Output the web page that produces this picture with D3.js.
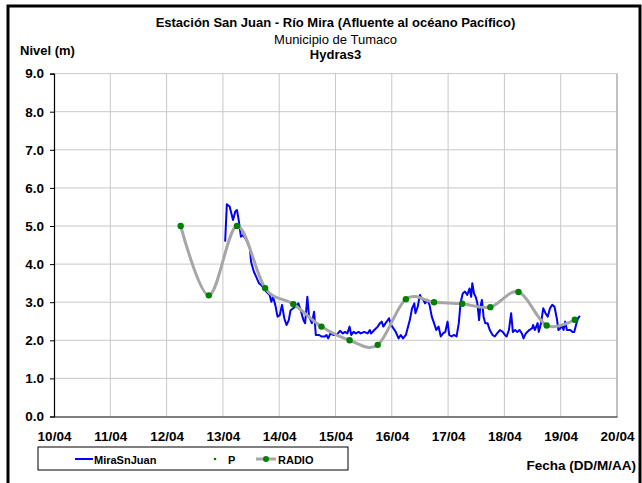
<!DOCTYPE html>
<html>
<head>
<meta charset="utf-8">
<script src="https://cdn.jsdelivr.net/npm/d3@7/dist/d3.min.js"></script>
<style>
  html, body { margin: 0; padding: 0; background: #fff; }
  svg { display: block; }
  text { font-family: "Liberation Sans", Arial, sans-serif; }
</style>
</head>
<body>
<script>
// ---------- DATA ----------
const titleLines = ["Estación San Juan  - Río Mira (Afluente al océano Pacífico)", "Municipio de Tumaco", "Hydras3"];
const xTickDays = [10, 11, 12, 13, 14, 15, 16, 17, 18, 19, 20];
const xTickLabels = ["10/04", "11/04", "12/04", "13/04", "14/04", "15/04", "16/04", "17/04", "18/04", "19/04", "20/04"];
const yTicks = [0, 1, 2, 3, 4, 5, 6, 7, 8, 9];

// MiraSnJuan (day of April, level m)
const miraDays = [13.04, 13.07, 13.12, 13.18, 13.22, 13.25, 13.28, 13.32, 13.36, 13.42, 13.48, 13.50, 13.55, 13.59, 13.64, 13.68, 13.73, 13.77, 13.83, 13.86, 13.89, 13.93, 13.97, 14.01, 14.05, 14.09, 14.13, 14.17, 14.20, 14.28, 14.34, 14.38, 14.43, 14.46, 14.50, 14.53, 14.58, 14.62, 14.65, 14.71, 14.75, 14.81, 14.84, 14.87, 14.91, 14.96, 15.02, 15.08, 15.13, 15.17, 15.21, 15.25, 15.28, 15.32, 15.36, 15.41, 15.45, 15.51, 15.57, 15.61, 15.63, 15.69, 15.75, 15.79, 15.82, 15.85, 15.89, 15.93, 15.95, 15.99, 16.03, 16.07, 16.12, 16.16, 16.20, 16.25, 16.28, 16.32, 16.36, 16.40, 16.42, 16.46, 16.50, 16.53, 16.56, 16.59, 16.63, 16.67, 16.71, 16.75, 16.79, 16.83, 16.87, 16.91, 16.95, 16.99, 17.02, 17.06, 17.10, 17.15, 17.19, 17.22, 17.26, 17.30, 17.34, 17.38, 17.41, 17.43, 17.46, 17.49, 17.52, 17.55, 17.57, 17.60, 17.63, 17.66, 17.70, 17.74, 17.79, 17.83, 17.87, 17.92, 17.97, 18.01, 18.04, 18.08, 18.12, 18.15, 18.19, 18.23, 18.27, 18.31, 18.34, 18.38, 18.44, 18.49, 18.51, 18.54, 18.59, 18.61, 18.65, 18.69, 18.73, 18.77, 18.81, 18.85, 18.89, 18.93, 18.96, 18.99, 19.02, 19.05, 19.08, 19.11, 19.17, 19.21, 19.24, 19.28, 19.31, 19.34];
const miraValues = [4.59, 5.57, 5.51, 5.16, 5.38, 5.42, 5.16, 4.72, 4.76, 4.63, 4.41, 4.06, 3.80, 3.67, 3.50, 3.45, 3.36, 3.28, 3.19, 3.01, 3.14, 2.93, 2.62, 2.66, 2.93, 2.58, 2.40, 2.53, 2.78, 2.88, 2.97, 2.80, 2.53, 2.45, 3.14, 2.62, 2.45, 2.75, 2.14, 2.14, 2.10, 2.10, 2.14, 2.05, 2.18, 2.14, 2.14, 2.25, 2.18, 2.22, 2.18, 2.36, 2.14, 2.22, 2.18, 2.22, 2.18, 2.22, 2.18, 2.27, 2.18, 2.27, 2.36, 2.45, 2.49, 2.36, 2.45, 2.53, 2.58, 2.40, 2.31, 2.22, 2.05, 2.14, 2.05, 2.14, 2.31, 2.53, 2.84, 2.97, 2.71, 2.88, 3.19, 3.10, 3.06, 2.97, 3.06, 2.93, 2.62, 2.45, 2.27, 2.36, 2.10, 2.18, 2.22, 2.49, 2.14, 2.10, 2.14, 2.10, 2.45, 2.97, 3.23, 3.28, 3.19, 3.36, 3.14, 3.50, 3.23, 3.14, 2.97, 2.53, 2.84, 3.06, 2.62, 2.45, 2.45, 2.27, 2.14, 2.10, 2.18, 2.27, 2.22, 2.14, 2.10, 2.27, 2.71, 2.22, 2.27, 2.22, 2.27, 2.18, 2.05, 2.18, 2.27, 2.31, 2.40, 2.27, 2.45, 2.22, 2.45, 2.84, 2.71, 2.62, 2.84, 2.93, 2.88, 2.58, 2.27, 2.31, 2.40, 2.27, 2.49, 2.27, 2.27, 2.22, 2.22, 2.45, 2.58, 2.64];

// P / RADIO readings (day of April, level m)
const radioDays = [12.25, 12.75, 13.25, 13.75, 14.25, 14.75, 15.25, 15.75, 16.25, 16.75, 17.25, 17.75, 18.25, 18.75, 19.25];
const radioValues = [5.00, 3.18, 5.00, 3.37, 2.95, 2.36, 2.00, 1.88, 3.08, 3.00, 2.96, 2.87, 3.27, 2.39, 2.54];

const legendLabels = ["MiraSnJuan", "P", "RADIO"];

// ---------- CHART ----------
const W = 642, H = 483;
const svg = d3.select("body").append("svg").attr("width", W).attr("height", H);

const plot = { left: 54, right: 617, top: 73.6, bottom: 416.5 };
const x = d3.scaleLinear().domain([10, 20]).range([plot.left, plot.right]);
const y = d3.scaleLinear().domain([0, 9]).range([plot.bottom, plot.top]);

// outer frame
svg.append("rect").attr("x", 8).attr("y", 6).attr("width", 632).attr("height", 500)
  .attr("fill", "#fff").attr("stroke", "#000").attr("stroke-width", 3);

// grid
const grid = svg.append("g");
grid.selectAll(".vg").data(xTickDays.slice(1)).join("line")
  .attr("x1", d => x(d)).attr("x2", d => x(d))
  .attr("y1", plot.top).attr("y2", plot.bottom)
  .attr("stroke", "#c8c8c8").attr("stroke-width", 1);
grid.selectAll(".hg").data(yTicks.slice(1)).join("line")
  .attr("x1", plot.left).attr("x2", plot.right)
  .attr("y1", d => y(d)).attr("y2", d => y(d))
  .attr("stroke", "#c8c8c8").attr("stroke-width", 1);
// right border of plot area
svg.append("line").attr("x1", plot.right).attr("x2", plot.right)
  .attr("y1", plot.top).attr("y2", plot.bottom).attr("stroke", "#a0a0a0");

// axes
const tfont = '"Liberation Sans Narrow", "Liberation Sans", Arial, sans-serif';
const yAxis = d3.axisLeft(y).tickValues(yTicks).tickFormat(d3.format(".1f")).tickSize(4).tickPadding(6);
const xAxis = d3.axisBottom(x).tickValues(xTickDays).tickFormat((d, i) => xTickLabels[i]).tickSize(0).tickPadding(15);

const gy = svg.append("g").attr("transform", `translate(${plot.left},0)`).call(yAxis);
const gx = svg.append("g").attr("transform", `translate(0,${plot.bottom})`).call(xAxis);
[gx, gy].forEach(g => {
  g.select(".domain").attr("stroke", "#000").attr("stroke-width", 1.2);
  g.selectAll(".tick line").attr("stroke", "#000");
  g.selectAll("text").attr("fill", "#000").attr("font-weight", "bold")
    .attr("font-size", 13.5).style("font-family", tfont);
});

// blue series
const mira = miraDays.map((d, i) => [d, miraValues[i]]);
svg.append("path").datum(mira)
  .attr("fill", "none").attr("stroke", "#0000ff").attr("stroke-width", 2)
  .attr("stroke-linejoin", "round")
  .attr("d", d3.line().x(d => x(d[0])).y(d => y(d[1])));

// RADIO smooth line
const radio = radioDays.map((d, i) => [d, radioValues[i]]);
svg.append("path").datum(radio)
  .attr("fill", "none").attr("stroke", "#a6a6a6").attr("stroke-width", 3)
  .attr("d", d3.line().curve(d3.curveCardinal.tension(0)).x(d => x(d[0])).y(d => y(d[1])));
// RADIO markers
svg.selectAll(".rdot").data(radio).join("circle")
  .attr("cx", d => x(d[0])).attr("cy", d => y(d[1])).attr("r", 3.2).attr("fill", "#008000");
// P points
svg.selectAll(".pdot").data(radio).join("circle")
  .attr("cx", d => x(d[0])).attr("cy", d => y(d[1])).attr("r", 1.5).attr("fill", "#008000");

// titles
const tx = (plot.left + plot.right) / 2;
svg.append("text").attr("x", tx).attr("y", 27).attr("text-anchor", "middle")
  .attr("font-weight", "bold").attr("font-size", 13).style("font-family", tfont).text(titleLines[0]);
svg.append("text").attr("x", tx).attr("y", 44).attr("text-anchor", "middle")
  .attr("font-size", 13).style("font-family", tfont).text(titleLines[1]);
svg.append("text").attr("x", tx).attr("y", 59).attr("text-anchor", "middle")
  .attr("font-weight", "bold").attr("font-size", 13).style("font-family", tfont).text(titleLines[2]);
svg.append("text").attr("x", 20).attr("y", 55)
  .attr("font-weight", "bold").attr("font-size", 13).style("font-family", tfont).text("Nivel (m)");
svg.append("text").attr("x", 636).attr("y", 470).attr("text-anchor", "end")
  .attr("font-weight", "bold").attr("font-size", 13.5).style("font-family", tfont).text("Fecha (DD/M/AA)");

// legend
const lg = svg.append("g");
lg.append("rect").attr("x", 38).attr("y", 447).attr("width", 310).attr("height", 23)
  .attr("fill", "#fff").attr("stroke", "#000").attr("stroke-width", 1);
const ly = 459;
lg.append("line").attr("x1", 75).attr("x2", 93).attr("y1", ly).attr("y2", ly)
  .attr("stroke", "#0000ff").attr("stroke-width", 2);
lg.append("circle").attr("cx", 215).attr("cy", ly).attr("r", 1.3).attr("fill", "#008000");
lg.append("line").attr("x1", 256).attr("x2", 276).attr("y1", ly).attr("y2", ly)
  .attr("stroke", "#a6a6a6").attr("stroke-width", 3);
lg.append("circle").attr("cx", 266).attr("cy", ly).attr("r", 3).attr("fill", "#008000");
const lx = [94, 228, 278];
lg.selectAll(".lt").data(legendLabels).join("text")
  .attr("x", (d, i) => lx[i]).attr("y", ly + 4.5)
  .attr("font-weight", "bold").attr("font-size", 11).style("font-family", tfont).text(d => d);
</script>
</body>
</html>
